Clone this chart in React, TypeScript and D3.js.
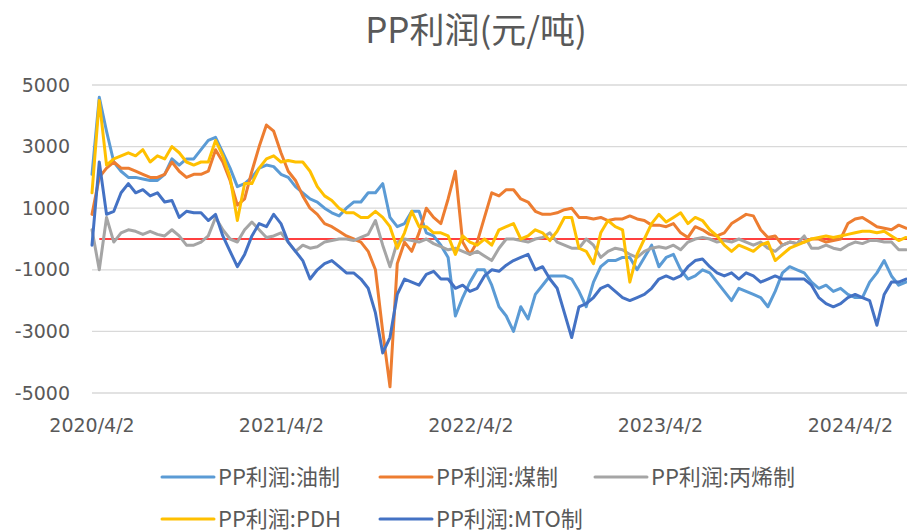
import React, {useEffect} from 'react'
import * as d3 from 'd3'

// category axis: one point every two weeks from 2020/4/2
const startDate = '2020-04-02'
const stepDays = 14

const oil = [
    2100, 4600, 3500, 2500, 2200, 2000, 2000, 1950, 1900, 1900, 2100, 2600, 2400, 2600, 2600, 2900, 3200, 3300, 2800, 2300, 1700, 1800, 2000,
    2300, 2400, 2350, 2100, 2000, 1700, 1500, 1300, 1200, 1000, 850, 750, 1000, 1200, 1200, 1500, 1500, 1800, 700, 400, 500, 900, 900,
    200, 100, -200, -600, -2500, -1900, -1400, -1000, -1000, -1500, -2200, -2500, -3000, -2200, -2600, -1800, -1500, -1200, -1200, -1200, -1300, -1700,
    -2200, -1400, -900, -700, -700, -600, -600, -1000, -600, -200, -900, -600, -500, -1000, -1300, -1200, -1000, -1100, -1400, -1700, -2000, -1600,
    -1700, -1800, -1900, -2200, -1700, -1100, -900, -1000, -1100, -1400, -1600, -1500, -1700, -1600, -1800, -1900, -1900, -1400, -1100, -700, -1200, -1500, -1400,
]
const coal = [
    800, 2000, 2300, 2500, 2300, 2300, 2200, 2100, 2000, 2000, 2100, 2500, 2200, 2000, 2100, 2100, 2200, 2900, 2500, 1900, 1100, 1300, 2200,
    3000, 3700, 3500, 2800, 2200, 1900, 1400, 1000, 800, 500, 400, 250, 100, 0, -100, -400, -1000, -3000, -4800, -800, -100, -400, 200,
    1000, 700, 500, 1300, 2200, -100, -500, -100, 700, 1500, 1400, 1600, 1600, 1300, 1200, 900, 800, 800, 850, 950, 1000, 700,
    700, 650, 700, 600, 650, 650, 750, 650, 600, 450, 450, 400, 500, 200, 50, 400, 300, 150, 100, 200, 500, 650,
    800, 750, 300, 50, 100, -200, -100, -150, -100, 0, 0, -100, -50, 0, 500, 650, 700, 550, 400, 350, 300, 450, 350,
]
const propylene = [
    300, -1000, 700, -100, 200, 300, 250, 150, 250, 150, 100, 300, 100, -200, -200, -100, 100, 700, 300, 0, -100, 300, 550,
    300, 50, 100, 200, -100, -400, -200, -300, -250, -100, -50, 0, 0, -50, 50, 150, 600, -200, -900, -100, 0, -50, -100,
    0, -150, -250, -350, -300, -400, -500, -400, -550, -700, -300, 0, 0, -50, -100, 0, 50, 200, -100, -200, -300, -300,
    0, -200, -600, -400, -300, -350, -500, -600, -400, -300, -250, -300, -200, -350, -100, 0, 50, 0, -100, -50, -100, 0,
    -100, -200, -100, -300, -400, -200, -100, -150, 100, -300, -300, -200, -300, -350, -200, -100, -150, -50, -50, -100, -100, -350, -350,
]
const pdh = [
    1500, 4500, 2400, 2600, 2700, 2800, 2700, 2900, 2500, 2700, 2600, 3000, 2800, 2500, 2400, 2500, 2500, 3200, 2700, 2000, 600, 1800, 1800,
    2300, 2600, 2700, 2500, 2550, 2500, 2500, 2200, 1700, 1400, 1250, 1000, 850, 850, 700, 700, 900, 700, 400, -300, 200, 900, 400,
    400, 200, 200, 100, -500, 100, -100, -200, 0, -200, 300, 400, 500, 0, 100, 300, 200, -50, 250, 700, 700, -300,
    -400, -800, 200, 600, 400, 300, -1400, -500, 0, 500, 800, 550, 700, 850, 500, 700, 600, 300, 100, -200, -400, -200,
    -300, -400, -200, -100, -700, -500, -300, -200, -100, 0, 50, 100, 50, 100, 150, 200, 250, 250, 200, 250, 100, -50, 50,
]
const mto = [
    -200, 2500, 800, 900, 1500, 1800, 1500, 1600, 1400, 1500, 1200, 1250, 700, 900, 850, 850, 600, 800, 100, -400, -900, -500, 100,
    500, 400, 800, 500, -100, -400, -700, -1300, -1000, -800, -700, -900, -1100, -1100, -1300, -1600, -2400, -3700, -3200, -1800, -1300, -1400, -1500,
    -1150, -1050, -1300, -1300, -1600, -1500, -1700, -1600, -1200, -1000, -1050, -850, -700, -600, -500, -1000, -900, -1300, -1600, -2400, -3200, -2200,
    -2100, -1900, -1600, -1500, -1700, -1900, -2000, -1900, -1800, -1600, -1300, -1200, -1300, -1200, -900, -700, -650, -900, -1100, -1200, -1100, -1300,
    -1100, -1200, -1400, -1300, -1200, -1300, -1300, -1300, -1300, -1500, -1900, -2100, -2200, -2100, -1900, -1800, -1900, -2000, -2800, -1800, -1400, -1400, -1300,
]

const seriesNames = ['PP利润:油制', 'PP利润:煤制', 'PP利润:丙烯制', 'PP利润:PDH', 'PP利润:MTO制']
const seriesValues = [oil, coal, propylene, pdh, mto]
const seriesColors = ['#5B9BD5', '#ED7D31', '#A5A5A5', '#FFC000', '#4472C4']

const yTicks = [5000, 3000, 1000, -1000, -3000, -5000]
const xTickLabels = ['2020/4/2', '2021/4/2', '2022/4/2', '2023/4/2', '2024/4/2']

const W = 907
const H = 532
const plot = {left: 92, right: 906, top: 85, bottom: 393}
const AXIS_FONT = '"DejaVu Sans", "Noto Sans CJK SC", sans-serif'
const CJK_FONT = '"Noto Sans CJK SC", sans-serif'
const TEXT = '#595959'

// legend slots: where each key line starts
const legendSlots = [
    {x: 162, y: 477},
    {x: 380, y: 477},
    {x: 595, y: 477},
    {x: 162, y: 519},
    {x: 380, y: 519},
]

export default function App() {
    useEffect(() => {
        document.body.style.margin = '0'
    }, [])

    const parse = d3.timeParse('%Y-%m-%d')
    const parseLabel = d3.timeParse('%Y/%m/%d')
    const t0 = parse(startDate)!
    const n = oil.length
    const dates = d3.range(n).map((i) => d3.timeDay.offset(t0, i * stepDays))

    const x = d3.scaleTime().domain([dates[0], dates[n - 1]]).range([plot.left, plot.right])
    const y = d3.scaleLinear().domain([-5000, 5000]).range([plot.bottom, plot.top])

    const line = d3
        .line<number>()
        .x((_, i) => x(dates[i]))
        .y((d) => y(d))

    return (
        <svg width={W} height={H} style={{display: 'block', background: '#fff'}} fontFamily={AXIS_FONT}>
            <text x={476} y={43} textAnchor="middle" fontSize={35} fill={TEXT} fontFamily={CJK_FONT}>
                PP利润(元/吨)
            </text>

            {yTicks.map((t) => (
                <g key={t}>
                    <line x1={plot.left} x2={W} y1={y(t)} y2={y(t)} stroke="#d9d9d9" strokeWidth={1.3}/>
                    <text x={70} y={y(t)} dy="0.35em" textAnchor="end" fontSize={19} fill={TEXT}>
                        {t}
                    </text>
                </g>
            ))}

            {xTickLabels.map((l) => (
                <text key={l} x={x(parseLabel(l)!)} y={432} textAnchor="middle" fontSize={19} fill={TEXT}>
                    {l}
                </text>
            ))}

            <line x1={x(dates[1])} x2={W} y1={y(0)} y2={y(0)} stroke="#FF0000" strokeWidth={1.5}/>

            {seriesValues.map((vals, k) => (
                <path
                    key={seriesNames[k]}
                    d={line(vals) || ''}
                    fill="none"
                    stroke={seriesColors[k]}
                    strokeWidth={3}
                    strokeLinejoin="round"
                    strokeLinecap="round"
                />
            ))}

            {seriesNames.map((name, k) => (
                <g key={name}>
                    <line
                        x1={legendSlots[k].x}
                        x2={legendSlots[k].x + 52}
                        y1={legendSlots[k].y}
                        y2={legendSlots[k].y}
                        stroke={seriesColors[k]}
                        strokeWidth={3}
                        strokeLinecap="round"
                    />
                    <text x={legendSlots[k].x + 56} y={legendSlots[k].y} dy="0.35em" fontSize={22}
                          fill={TEXT} fontFamily={CJK_FONT}>
                        {name}
                    </text>
                </g>
            ))}
        </svg>
    )
}
